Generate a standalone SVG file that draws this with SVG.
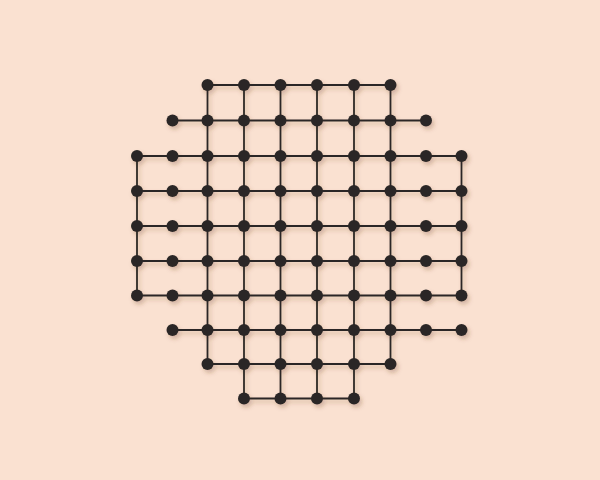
<svg xmlns="http://www.w3.org/2000/svg" width="600" height="480" viewBox="0 0 600 480">
<defs>
<filter id="sh" x="-10%" y="-10%" width="120%" height="120%">
<feDropShadow dx="2" dy="3" stdDeviation="2" flood-color="#6b3a20" flood-opacity="0.28"/>
</filter>
</defs>
<style>
.e line{stroke:#2b2725;stroke-width:1.8;stroke-linecap:round}
.n circle{fill:#2a2726}
</style>
<rect width="600" height="480" fill="#fae1d1"/>
<g filter="url(#sh)">
<g id="connectors" class="e">
<!-- horizontal row0 -->
<line x1="207.5" y1="85" x2="244" y2="85"/><line x1="244" y1="85" x2="280.5" y2="85"/><line x1="280.5" y1="85" x2="317" y2="85"/><line x1="317" y1="85" x2="354" y2="85"/><line x1="354" y1="85" x2="390.5" y2="85"/>
<!-- row1 -->
<line x1="172.5" y1="120.5" x2="207.5" y2="120.5"/><line x1="207.5" y1="120.5" x2="244" y2="120.5"/><line x1="244" y1="120.5" x2="280.5" y2="120.5"/><line x1="280.5" y1="120.5" x2="317" y2="120.5"/><line x1="317" y1="120.5" x2="354" y2="120.5"/><line x1="354" y1="120.5" x2="390.5" y2="120.5"/><line x1="390.5" y1="120.5" x2="426" y2="120.5"/>
<!-- row2 -->
<line x1="137" y1="156" x2="172.5" y2="156"/><line x1="172.5" y1="156" x2="207.5" y2="156"/><line x1="207.5" y1="156" x2="244" y2="156"/><line x1="244" y1="156" x2="280.5" y2="156"/><line x1="280.5" y1="156" x2="317" y2="156"/><line x1="317" y1="156" x2="354" y2="156"/><line x1="354" y1="156" x2="390.5" y2="156"/><line x1="390.5" y1="156" x2="426" y2="156"/><line x1="426" y1="156" x2="461.5" y2="156"/>
<!-- row3 -->
<line x1="137" y1="191" x2="172.5" y2="191"/><line x1="172.5" y1="191" x2="207.5" y2="191"/><line x1="207.5" y1="191" x2="244" y2="191"/><line x1="244" y1="191" x2="280.5" y2="191"/><line x1="280.5" y1="191" x2="317" y2="191"/><line x1="317" y1="191" x2="354" y2="191"/><line x1="354" y1="191" x2="390.5" y2="191"/><line x1="390.5" y1="191" x2="426" y2="191"/><line x1="426" y1="191" x2="461.5" y2="191"/>
<!-- row4 -->
<line x1="137" y1="226" x2="172.5" y2="226"/><line x1="172.5" y1="226" x2="207.5" y2="226"/><line x1="207.5" y1="226" x2="244" y2="226"/><line x1="244" y1="226" x2="280.5" y2="226"/><line x1="280.5" y1="226" x2="317" y2="226"/><line x1="317" y1="226" x2="354" y2="226"/><line x1="354" y1="226" x2="390.5" y2="226"/><line x1="390.5" y1="226" x2="426" y2="226"/><line x1="426" y1="226" x2="461.5" y2="226"/>
<!-- row5 -->
<line x1="137" y1="261" x2="172.5" y2="261"/><line x1="172.5" y1="261" x2="207.5" y2="261"/><line x1="207.5" y1="261" x2="244" y2="261"/><line x1="244" y1="261" x2="280.5" y2="261"/><line x1="280.5" y1="261" x2="317" y2="261"/><line x1="317" y1="261" x2="354" y2="261"/><line x1="354" y1="261" x2="390.5" y2="261"/><line x1="390.5" y1="261" x2="426" y2="261"/><line x1="426" y1="261" x2="461.5" y2="261"/>
<!-- row6 -->
<line x1="137" y1="295.5" x2="172.5" y2="295.5"/><line x1="172.5" y1="295.5" x2="207.5" y2="295.5"/><line x1="207.5" y1="295.5" x2="244" y2="295.5"/><line x1="244" y1="295.5" x2="280.5" y2="295.5"/><line x1="280.5" y1="295.5" x2="317" y2="295.5"/><line x1="317" y1="295.5" x2="354" y2="295.5"/><line x1="354" y1="295.5" x2="390.5" y2="295.5"/><line x1="390.5" y1="295.5" x2="426" y2="295.5"/><line x1="426" y1="295.5" x2="461.5" y2="295.5"/>
<!-- row7 -->
<line x1="172.5" y1="330" x2="207.5" y2="330"/><line x1="207.5" y1="330" x2="244" y2="330"/><line x1="244" y1="330" x2="280.5" y2="330"/><line x1="280.5" y1="330" x2="317" y2="330"/><line x1="317" y1="330" x2="354" y2="330"/><line x1="354" y1="330" x2="390.5" y2="330"/><line x1="390.5" y1="330" x2="426" y2="330"/><line x1="426" y1="330" x2="461.5" y2="330"/>
<!-- row8 -->
<line x1="207.5" y1="364" x2="244" y2="364"/><line x1="244" y1="364" x2="280.5" y2="364"/><line x1="280.5" y1="364" x2="317" y2="364"/><line x1="317" y1="364" x2="354" y2="364"/><line x1="354" y1="364" x2="390.5" y2="364"/>
<!-- row9 -->
<line x1="244" y1="398.5" x2="280.5" y2="398.5"/><line x1="280.5" y1="398.5" x2="317" y2="398.5"/><line x1="317" y1="398.5" x2="354" y2="398.5"/>
<!-- vertical col0 -->
<line x1="137" y1="156" x2="137" y2="191"/><line x1="137" y1="191" x2="137" y2="226"/><line x1="137" y1="226" x2="137" y2="261"/><line x1="137" y1="261" x2="137" y2="295.5"/>
<!-- col9 -->
<line x1="461.5" y1="156" x2="461.5" y2="191"/><line x1="461.5" y1="191" x2="461.5" y2="226"/><line x1="461.5" y1="226" x2="461.5" y2="261"/><line x1="461.5" y1="261" x2="461.5" y2="295.5"/>
<!-- col2 -->
<line x1="207.5" y1="85" x2="207.5" y2="120.5"/><line x1="207.5" y1="120.5" x2="207.5" y2="156"/><line x1="207.5" y1="156" x2="207.5" y2="191"/><line x1="207.5" y1="191" x2="207.5" y2="226"/><line x1="207.5" y1="226" x2="207.5" y2="261"/><line x1="207.5" y1="261" x2="207.5" y2="295.5"/><line x1="207.5" y1="295.5" x2="207.5" y2="330"/><line x1="207.5" y1="330" x2="207.5" y2="364"/>
<!-- col3 -->
<line x1="244" y1="85" x2="244" y2="120.5"/><line x1="244" y1="120.5" x2="244" y2="156"/><line x1="244" y1="156" x2="244" y2="191"/><line x1="244" y1="191" x2="244" y2="226"/><line x1="244" y1="226" x2="244" y2="261"/><line x1="244" y1="261" x2="244" y2="295.5"/><line x1="244" y1="295.5" x2="244" y2="330"/><line x1="244" y1="330" x2="244" y2="364"/><line x1="244" y1="364" x2="244" y2="398.5"/>
<!-- col4 -->
<line x1="280.5" y1="85" x2="280.5" y2="120.5"/><line x1="280.5" y1="120.5" x2="280.5" y2="156"/><line x1="280.5" y1="156" x2="280.5" y2="191"/><line x1="280.5" y1="191" x2="280.5" y2="226"/><line x1="280.5" y1="226" x2="280.5" y2="261"/><line x1="280.5" y1="261" x2="280.5" y2="295.5"/><line x1="280.5" y1="295.5" x2="280.5" y2="330"/><line x1="280.5" y1="330" x2="280.5" y2="364"/><line x1="280.5" y1="364" x2="280.5" y2="398.5"/>
<!-- col5 -->
<line x1="317" y1="85" x2="317" y2="120.5"/><line x1="317" y1="120.5" x2="317" y2="156"/><line x1="317" y1="156" x2="317" y2="191"/><line x1="317" y1="191" x2="317" y2="226"/><line x1="317" y1="226" x2="317" y2="261"/><line x1="317" y1="261" x2="317" y2="295.5"/><line x1="317" y1="295.5" x2="317" y2="330"/><line x1="317" y1="330" x2="317" y2="364"/><line x1="317" y1="364" x2="317" y2="398.5"/>
<!-- col6 -->
<line x1="354" y1="85" x2="354" y2="120.5"/><line x1="354" y1="120.5" x2="354" y2="156"/><line x1="354" y1="156" x2="354" y2="191"/><line x1="354" y1="191" x2="354" y2="226"/><line x1="354" y1="226" x2="354" y2="261"/><line x1="354" y1="261" x2="354" y2="295.5"/><line x1="354" y1="295.5" x2="354" y2="330"/><line x1="354" y1="330" x2="354" y2="364"/><line x1="354" y1="364" x2="354" y2="398.5"/>
<!-- col7 -->
<line x1="390.5" y1="85" x2="390.5" y2="120.5"/><line x1="390.5" y1="120.5" x2="390.5" y2="156"/><line x1="390.5" y1="156" x2="390.5" y2="191"/><line x1="390.5" y1="191" x2="390.5" y2="226"/><line x1="390.5" y1="226" x2="390.5" y2="261"/><line x1="390.5" y1="261" x2="390.5" y2="295.5"/><line x1="390.5" y1="295.5" x2="390.5" y2="330"/><line x1="390.5" y1="330" x2="390.5" y2="364"/>
</g>
<g class="n">
<g id="n0-2"><circle cx="207.5" cy="85" r="6"/></g><g id="n0-3"><circle cx="244" cy="85" r="6"/></g><g id="n0-4"><circle cx="280.5" cy="85" r="6"/></g><g id="n0-5"><circle cx="317" cy="85" r="6"/></g><g id="n0-6"><circle cx="354" cy="85" r="6"/></g><g id="n0-7"><circle cx="390.5" cy="85" r="6"/></g>
<g id="n1-1"><circle cx="172.5" cy="120.5" r="6"/></g><g id="n1-2"><circle cx="207.5" cy="120.5" r="6"/></g><g id="n1-3"><circle cx="244" cy="120.5" r="6"/></g><g id="n1-4"><circle cx="280.5" cy="120.5" r="6"/></g><g id="n1-5"><circle cx="317" cy="120.5" r="6"/></g><g id="n1-6"><circle cx="354" cy="120.5" r="6"/></g><g id="n1-7"><circle cx="390.5" cy="120.5" r="6"/></g><g id="n1-8"><circle cx="426" cy="120.5" r="6"/></g>
<g id="n2-0"><circle cx="137" cy="156" r="6"/></g><g id="n2-1"><circle cx="172.5" cy="156" r="6"/></g><g id="n2-2"><circle cx="207.5" cy="156" r="6"/></g><g id="n2-3"><circle cx="244" cy="156" r="6"/></g><g id="n2-4"><circle cx="280.5" cy="156" r="6"/></g><g id="n2-5"><circle cx="317" cy="156" r="6"/></g><g id="n2-6"><circle cx="354" cy="156" r="6"/></g><g id="n2-7"><circle cx="390.5" cy="156" r="6"/></g><g id="n2-8"><circle cx="426" cy="156" r="6"/></g><g id="n2-9"><circle cx="461.5" cy="156" r="6"/></g>
<g id="n3-0"><circle cx="137" cy="191" r="6"/></g><g id="n3-1"><circle cx="172.5" cy="191" r="6"/></g><g id="n3-2"><circle cx="207.5" cy="191" r="6"/></g><g id="n3-3"><circle cx="244" cy="191" r="6"/></g><g id="n3-4"><circle cx="280.5" cy="191" r="6"/></g><g id="n3-5"><circle cx="317" cy="191" r="6"/></g><g id="n3-6"><circle cx="354" cy="191" r="6"/></g><g id="n3-7"><circle cx="390.5" cy="191" r="6"/></g><g id="n3-8"><circle cx="426" cy="191" r="6"/></g><g id="n3-9"><circle cx="461.5" cy="191" r="6"/></g>
<g id="n4-0"><circle cx="137" cy="226" r="6"/></g><g id="n4-1"><circle cx="172.5" cy="226" r="6"/></g><g id="n4-2"><circle cx="207.5" cy="226" r="6"/></g><g id="n4-3"><circle cx="244" cy="226" r="6"/></g><g id="n4-4"><circle cx="280.5" cy="226" r="6"/></g><g id="n4-5"><circle cx="317" cy="226" r="6"/></g><g id="n4-6"><circle cx="354" cy="226" r="6"/></g><g id="n4-7"><circle cx="390.5" cy="226" r="6"/></g><g id="n4-8"><circle cx="426" cy="226" r="6"/></g><g id="n4-9"><circle cx="461.5" cy="226" r="6"/></g>
<g id="n5-0"><circle cx="137" cy="261" r="6"/></g><g id="n5-1"><circle cx="172.5" cy="261" r="6"/></g><g id="n5-2"><circle cx="207.5" cy="261" r="6"/></g><g id="n5-3"><circle cx="244" cy="261" r="6"/></g><g id="n5-4"><circle cx="280.5" cy="261" r="6"/></g><g id="n5-5"><circle cx="317" cy="261" r="6"/></g><g id="n5-6"><circle cx="354" cy="261" r="6"/></g><g id="n5-7"><circle cx="390.5" cy="261" r="6"/></g><g id="n5-8"><circle cx="426" cy="261" r="6"/></g><g id="n5-9"><circle cx="461.5" cy="261" r="6"/></g>
<g id="n6-0"><circle cx="137" cy="295.5" r="6"/></g><g id="n6-1"><circle cx="172.5" cy="295.5" r="6"/></g><g id="n6-2"><circle cx="207.5" cy="295.5" r="6"/></g><g id="n6-3"><circle cx="244" cy="295.5" r="6"/></g><g id="n6-4"><circle cx="280.5" cy="295.5" r="6"/></g><g id="n6-5"><circle cx="317" cy="295.5" r="6"/></g><g id="n6-6"><circle cx="354" cy="295.5" r="6"/></g><g id="n6-7"><circle cx="390.5" cy="295.5" r="6"/></g><g id="n6-8"><circle cx="426" cy="295.5" r="6"/></g><g id="n6-9"><circle cx="461.5" cy="295.5" r="6"/></g>
<g id="n7-1"><circle cx="172.5" cy="330" r="6"/></g><g id="n7-2"><circle cx="207.5" cy="330" r="6"/></g><g id="n7-3"><circle cx="244" cy="330" r="6"/></g><g id="n7-4"><circle cx="280.5" cy="330" r="6"/></g><g id="n7-5"><circle cx="317" cy="330" r="6"/></g><g id="n7-6"><circle cx="354" cy="330" r="6"/></g><g id="n7-7"><circle cx="390.5" cy="330" r="6"/></g><g id="n7-8"><circle cx="426" cy="330" r="6"/></g><g id="n7-9"><circle cx="461.5" cy="330" r="6"/></g>
<g id="n8-2"><circle cx="207.5" cy="364" r="6"/></g><g id="n8-3"><circle cx="244" cy="364" r="6"/></g><g id="n8-4"><circle cx="280.5" cy="364" r="6"/></g><g id="n8-5"><circle cx="317" cy="364" r="6"/></g><g id="n8-6"><circle cx="354" cy="364" r="6"/></g><g id="n8-7"><circle cx="390.5" cy="364" r="6"/></g>
<g id="n9-3"><circle cx="244" cy="398.5" r="6"/></g><g id="n9-4"><circle cx="280.5" cy="398.5" r="6"/></g><g id="n9-5"><circle cx="317" cy="398.5" r="6"/></g><g id="n9-6"><circle cx="354" cy="398.5" r="6"/></g>
</g>
</g>
</svg>
